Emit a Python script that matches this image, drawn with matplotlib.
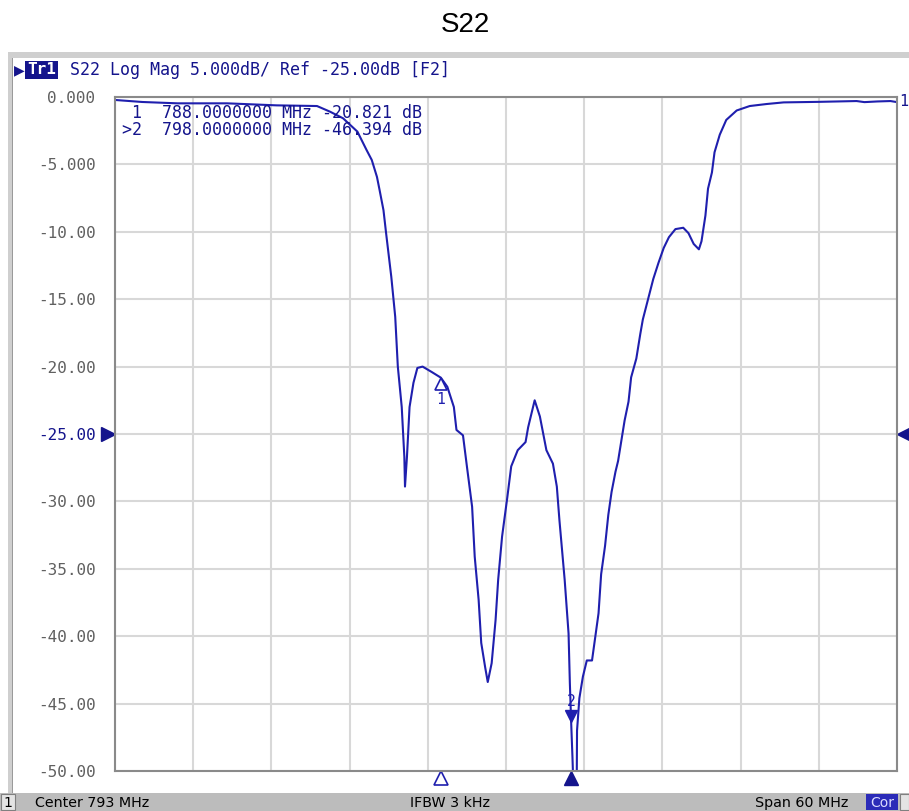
#Recreation of a VNA screenshot: S22 log magnitude trace with two markers.

import numpy as np
from matplotlib import pyplot as plt
from matplotlib import transforms
from matplotlib.patches import Rectangle


#Frequency points of the trace (MHz).
freq_mhz = [763.0, 765.1, 767.8, 771.6, 775.4, 778.5, 779.5, 780.5, 781.6, 782.3,
            782.7, 783.1, 783.3, 783.6, 783.8, 784.2, 784.5, 784.7, 785.0, 785.2,
            785.25, 785.4, 785.6, 785.9, 786.2, 786.6, 787.3, 788.0, 788.5, 789.0,
            789.2, 789.7, 790.0, 790.4, 790.6, 790.9, 791.1, 791.4, 791.6, 791.9,
            792.2, 792.4, 792.7, 793.1, 793.4, 793.9, 794.5, 794.7, 795.2, 795.6,
            796.1, 796.6, 796.9, 797.1, 797.5, 797.8, 797.9, 798.0, 798.1, 798.2,
            798.42, 798.45, 798.63, 798.9, 799.2, 799.6, 799.8, 800.1, 800.3, 800.6,
            800.85, 801.1, 801.4, 801.6, 801.9, 802.1, 802.4, 802.6, 803.0, 803.3,
            803.5, 803.9, 804.3, 804.7, 805.1, 805.5, 806.0, 806.6, 807.0, 807.4,
            807.8, 808.0, 808.3, 808.5, 808.8, 809.0, 809.4, 809.9, 810.7, 811.7,
            813.0, 814.3, 817.0, 819.9, 820.5, 821.5, 822.5, 823.0]

#S22 magnitude (dB) at each of the frequency points above.
s22_db = [-0.22, -0.37, -0.47, -0.47, -0.62, -0.67, -1.09, -1.58, -2.57, -3.93,
          -4.67, -5.93, -6.9, -8.4, -10.1, -13.35, -16.3, -20.0, -23.0, -26.7,
          -28.9, -26.7, -23.0, -21.2, -20.1, -20.0, -20.4, -20.82, -21.5, -23.0,
          -24.7, -25.1, -27.4, -30.4, -34.1, -37.3, -40.5, -42.3, -43.4, -42.0,
          -38.8, -35.8, -32.6, -29.7, -27.4, -26.2, -25.6, -24.5, -22.5, -23.7,
          -26.2, -27.2, -28.9, -31.4, -35.8, -39.8, -43.5, -46.39, -49.0, -52.0,
          -52.0, -47.0, -44.6, -43.0, -41.8, -41.8, -40.4, -38.3, -35.4, -33.3,
          -31.0, -29.3, -27.8, -27.0, -25.2, -24.0, -22.6, -20.8, -19.4, -17.6,
          -16.5, -15.0, -13.5, -12.3, -11.2, -10.4, -9.8, -9.7, -10.1, -10.9,
          -11.3, -10.7, -8.8, -6.8, -5.6, -4.1, -2.8, -1.7, -1.0, -0.67,
          -0.52, -0.4, -0.36, -0.3, -0.38, -0.33, -0.3, -0.38]

#Marker positions (MHz, dB)
marker_freq = [788.0, 798.0]
marker_db = [-20.821, -46.394]
marker_names = ['1', '2']

#Axis ticks and labels
x_ticks = [763, 769, 775, 781, 787, 793, 799, 805, 811, 817, 823]
y_ticks = [0, -5, -10, -15, -20, -25, -30, -35, -40, -45, -50]
y_tick_labels = ['0.000', '-5.000', '-10.00', '-15.00', '-20.00', '-25.00',
                 '-30.00', '-35.00', '-40.00', '-45.00', '-50.00']


W, H = 909, 811
blue = '#1f1fae'
dark_blue = '#14148c'
mono = 'DejaVu Sans Mono'


#Pixel helpers for placing things on the figure like on the screen.
def fx(x):
    return x / W


def fy(y):
    return 1 - y / H


fig = plt.figure(figsize=(W / 100, H / 100), dpi=100)


#Instrument window frame and status bar.
fig.patches.append(Rectangle((fx(8), fy(58)), fx(W - 8), 6 / H, transform=fig.transFigure,
                             facecolor='#cfcfcf', edgecolor='none'))
fig.patches.append(Rectangle((fx(8), fy(793)), 4 / W, 735 / H, transform=fig.transFigure,
                             facecolor='#cfcfcf', edgecolor='none'))
fig.patches.append(Rectangle((fx(12), fy(793)), 1 / W, 735 / H, transform=fig.transFigure,
                             facecolor='#9a9a9a', edgecolor='none'))
fig.patches.append(Rectangle((0, 0), 1, 18 / H, transform=fig.transFigure,
                             facecolor='#bcbcbc', edgecolor='none'))
fig.patches.append(Rectangle((fx(1), fy(810)), 14 / W, 16 / H, transform=fig.transFigure,
                             facecolor='#e4e4e4', edgecolor='#808080', linewidth=0.8))
fig.patches.append(Rectangle((fx(866), fy(810)), 32 / W, 16 / H, transform=fig.transFigure,
                             facecolor='#2b2bb8', edgecolor='none'))
fig.patches.append(Rectangle((fx(900), fy(810)), 9 / W, 16 / H, transform=fig.transFigure,
                             facecolor='#e4e4e4', edgecolor='#808080', linewidth=0.8))


#Title
fig.text(fx(465), fy(25), 'S22', ha='center', va='center', fontsize=20,
         family='Liberation Sans')


#Plot area
ax = fig.add_axes([fx(115), fy(771), 782 / W, 674 / H])
ax.plot(freq_mhz, s22_db, color=blue, linewidth=1.5)
ax.set_xlim(763, 823)
ax.set_ylim(-50, 0)
ax.set_xticks(x_ticks)
ax.set_xticklabels([])
ax.set_yticks(y_ticks)
ax.set_yticklabels(y_tick_labels, family=mono, fontsize=11.5, color='#606060')
ax.get_yticklabels()[5].set_color(dark_blue)
ax.tick_params(length=0, pad=14)
ax.grid(True, color='#d8d8d8', linewidth=1.5)
for s in ax.spines.values():
    s.set_color('#8a8a8a')
    s.set_linewidth(1.5)


#Marker symbols on the trace, shifted in points so the tip sits on the trace.
def shifted(dx, dy):
    return transforms.offset_copy(ax.transData, fig=fig, x=dx, y=dy, units='points')


ax.plot(marker_freq[0], marker_db[0], marker='^', markersize=9, markerfacecolor='white',
        markeredgecolor=blue, markeredgewidth=1.2, transform=shifted(0, -4.5))
ax.text(marker_freq[0], marker_db[0], marker_names[0], color=blue, family=mono, fontsize=10.5,
        ha='center', va='center', transform=shifted(0, -16))
ax.plot(marker_freq[1], marker_db[1], marker='v', markersize=9, color=blue,
        transform=shifted(0, 4.5))
ax.text(marker_freq[1], marker_db[1], marker_names[1], color=blue, family=mono, fontsize=10.5,
        ha='center', va='center', transform=shifted(0, 15))


#Stimulus markers under the grid
ax.plot(marker_freq[0], -50, marker='^', markersize=10, markerfacecolor='white',
        markeredgecolor=blue, markeredgewidth=1.2, clip_on=False, transform=shifted(0, -5))
ax.plot(marker_freq[1], -50, marker='^', markersize=10, color=dark_blue,
        clip_on=False, transform=shifted(0, -5))


#Reference level arrows at both sides
ax.plot(763, -25, marker='>', markersize=10, color=dark_blue, clip_on=False,
        transform=shifted(-5, 0))
ax.plot(823, -25, marker='<', markersize=10, color=dark_blue, clip_on=False,
        transform=shifted(5, 0))


#Trace header line
fig.text(fx(14), fy(70), '\u25B6', color=dark_blue, fontsize=10, va='center')
fig.text(fx(27), fy(70), 'Tr1', color='white', family=mono, fontsize=11.5, va='center',
         fontweight='bold',
         bbox=dict(facecolor=dark_blue, edgecolor='none', boxstyle='square,pad=0.12'))
fig.text(fx(70), fy(70), 'S22 Log Mag 5.000dB/ Ref -25.00dB [F2]', color=dark_blue,
         family=mono, fontsize=12, va='center')


#Marker table
fig.text(fx(122), fy(113), ' 1  788.0000000 MHz -20.821 dB', color=dark_blue,
         family=mono, fontsize=12, va='center')
fig.text(fx(122), fy(130), '>2  798.0000000 MHz -46.394 dB', color=dark_blue,
         family=mono, fontsize=12, va='center')
fig.text(fx(899), fy(101), '1', color=dark_blue, family=mono, fontsize=11, va='center')


#Status bar texts
fig.text(fx(8), fy(803), '1', fontsize=10, ha='center', va='center')
fig.text(fx(35), fy(803), 'Center 793 MHz', fontsize=10.3, va='center')
fig.text(fx(410), fy(803), 'IFBW 3 kHz', fontsize=10.3, va='center')
fig.text(fx(755), fy(803), 'Span 60 MHz', fontsize=10.3, va='center')
fig.text(fx(882), fy(803), 'Cor', fontsize=10, ha='center', va='center', color='#dcdcff')


plt.savefig('out.png', dpi=100)
